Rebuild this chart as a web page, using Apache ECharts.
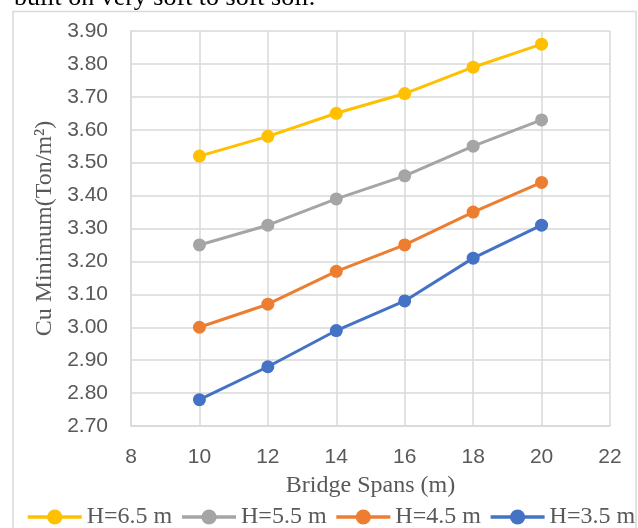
<!DOCTYPE html>
<html>
<head>
<meta charset="utf-8">
<script src="https://cdn.jsdelivr.net/npm/echarts@6/dist/echarts.min.js"></script>
<style>html,body{margin:0;padding:0;background:#fff;}#c{width:638px;height:528px;}</style>
</head>
<body>
<div id="c"></div>
<script>
const spans = [10, 12, 14, 16, 18, 20];
const seriesNames = ['H=6.5 m', 'H=5.5 m', 'H=4.5 m', 'H=3.5 m'];
const h65 = [3.52, 3.58, 3.65, 3.71, 3.79, 3.86];
const h55 = [3.25, 3.31, 3.39, 3.46, 3.55, 3.63];
const h45 = [3.00, 3.07, 3.17, 3.25, 3.35, 3.44];
const h35 = [2.78, 2.88, 2.99, 3.08, 3.21, 3.31];
const colors = ['#FFC000', '#A5A5A5', '#ED7D31', '#4472C4'];
const allValues = [h65, h55, h45, h35];

const chart = echarts.init(document.getElementById('c'), null, {renderer: 'canvas'});
const grid = '#D9D9D9';
const tickFont = {fontFamily: 'Liberation Sans', fontSize: 21, color: '#595959'};
const serif = 'Liberation Serif';

chart.setOption({
  animation: false,
  backgroundColor: '#fff',
  graphic: [
    {type: 'rect', shape: {x: 13, y: 11.5, width: 623, height: 530}, style: {fill: 'none', stroke: grid, lineWidth: 1.5}, z: -1},
    {type: 'text', x: 14, y: 11, style: {text: 'built on very soft to soft soil.', font: '26px "Liberation Serif"', fill: '#000', verticalAlign: 'bottom', align: 'left'}}
  ],
  grid: {left: 131, right: 28, top: 31, bottom: 102},
  xAxis: {
    type: 'value', min: 8, max: 22, interval: 2,
    name: 'Bridge Spans (m)', nameLocation: 'middle', nameGap: 48,
    nameTextStyle: {fontFamily: serif, fontSize: 24, color: '#595959'},
    axisLine: {show: true, lineStyle: {color: grid, width: 1.5}},
    axisTick: {show: false},
    axisLabel: Object.assign({margin: 21}, tickFont),
    splitLine: {show: true, lineStyle: {color: grid, width: 1.5}}
  },
  yAxis: {
    type: 'value', min: 2.7, max: 3.9, interval: 0.1,
    name: 'Cu Minimum(Ton/m\u00B2)', nameLocation: 'middle', nameGap: 74,
    nameTextStyle: {fontFamily: serif, fontSize: 24, color: '#595959'},
    axisLine: {show: true, lineStyle: {color: grid, width: 1.5}},
    axisTick: {show: false},
    axisLabel: Object.assign({margin: 23, formatter: v => v.toFixed(2)}, tickFont),
    splitLine: {show: true, lineStyle: {color: grid, width: 1.5}}
  },
  legend: {
    top: 505, left: 26, width: 612, padding: 0, itemWidth: 54, itemHeight: 19, itemGap: 8,
    lineStyle: {width: 3.5},
    textStyle: {fontFamily: serif, fontSize: 24, color: '#595959'},
    data: seriesNames
  },
  series: seriesNames.map((n, i) => ({
    name: n, type: 'line',
    data: spans.map((x, j) => [x, allValues[i][j]]),
    symbol: 'circle', symbolSize: 13,
    lineStyle: {color: colors[i], width: 3},
    itemStyle: {color: colors[i]}
  }))
});
</script>
</body>
</html>
